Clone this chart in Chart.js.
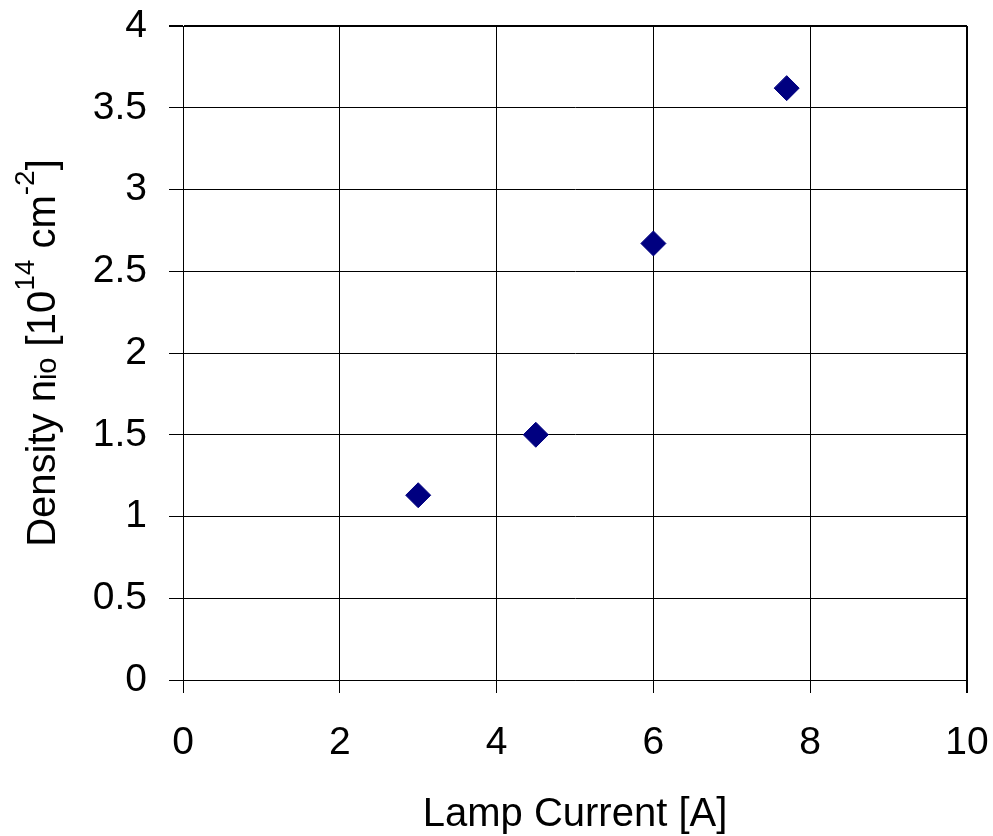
<!DOCTYPE html>
<html>
<head>
<meta charset="utf-8">
<title>Density vs Lamp Current</title>
<script src="https://cdn.jsdelivr.net/npm/chart.js@4.4.0/dist/chart.umd.min.js"></script>
<style>
  body { margin: 0; background: #fff; }
  #wrap { width: 993px; height: 836px; }
</style>
</head>
<body>
<div id="wrap"><canvas id="chart" width="993" height="836"></canvas></div>
<script>
'use strict';

// values
let lampCurrent = [3, 4.5, 6, 7.7];
let density = [1.13, 1.5, 2.67, 3.62];

let xTicks = [0, 2, 4, 6, 8, 10];
let yTicks = [0, 0.5, 1, 1.5, 2, 2.5, 3, 3.5, 4];

let fontFamily = '"Liberation Sans", Arial, Helvetica, sans-serif';
let navy = '#000080';

let points = [];
for (let i = 0; i < lampCurrent.length; i++) {
  points.push({x: lampCurrent[i], y: density[i]});
}

// y title has sub/superscripts, so it is drawn by hand
let yTitlePlugin = {
  id: 'yTitle',
  afterDraw(chart) {
    let ctx = chart.ctx;
    let area = chart.chartArea;
    let parts = [
      {text: 'Density n', size: 40, rise: 0},
      {text: 'io', size: 29, rise: -1},
      {text: ' [10', size: 40, rise: 0},
      {text: '14', size: 28, rise: 21},
      {text: ' cm', size: 40, rise: 0},
      {text: '-2', size: 28, rise: 21},
      {text: ']', size: 40, rise: 0}
    ];
    let total = 0;
    for (let p of parts) {
      ctx.font = p.size + 'px ' + fontFamily;
      p.w = ctx.measureText(p.text).width;
      total += p.w;
    }
    ctx.save();
    ctx.translate(55, (area.top + area.bottom) / 2);
    ctx.rotate(-Math.PI / 2);
    ctx.fillStyle = '#000';
    ctx.textBaseline = 'alphabetic';
    ctx.textAlign = 'left';
    let x = -total / 2;
    for (let p of parts) {
      ctx.font = p.size + 'px ' + fontFamily;
      ctx.fillText(p.text, x, -p.rise);
      x += p.w;
    }
    ctx.restore();
  }
};

function gridWidth(lastValue) {
  return function(context) {
    return context.tick && context.tick.value === lastValue ? 2 : 1;
  };
}

let ctx = document.getElementById('chart').getContext('2d');

let chart = new Chart(ctx, {
  type: 'scatter',
  data: {
    datasets: [{
      data: points,
      pointStyle: 'rectRot',
      pointRadius: 12.5,
      pointBackgroundColor: navy,
      pointBorderColor: navy,
      pointBorderWidth: 1,
      showLine: false
    }]
  },
  options: {
    responsive: false,
    animation: false,
    devicePixelRatio: 1,
    layout: {
      padding: {top: 26, right: 26, bottom: 0, left: 0}
    },
    plugins: {
      legend: {display: false},
      tooltip: {enabled: false}
    },
    scales: {
      x: {
        type: 'linear',
        min: 0,
        max: 10,
        afterBuildTicks: function(scale) {
          scale.ticks = xTicks.map(v => ({value: v}));
        },
        afterFit: function(scale) {
          scale.height = 156;
          scale.paddingLeft = 0;
          scale.paddingRight = 0;
        },
        ticks: {
          color: '#000',
          font: {family: fontFamily, size: 39},
          padding: 27,
          maxRotation: 0,
          callback: v => String(v)
        },
        grid: {
          color: '#000',
          lineWidth: gridWidth(10),
          tickLength: 13
        },
        border: {color: '#000', width: 1},
        title: {
          display: true,
          text: 'Lamp Current [A]',
          color: '#000',
          font: {family: fontFamily, size: 40},
          padding: {top: 0, bottom: -3}
        }
      },
      y: {
        type: 'linear',
        min: 0,
        max: 4,
        afterBuildTicks: function(scale) {
          scale.ticks = yTicks.map(v => ({value: v}));
        },
        afterFit: function(scale) {
          scale.width = 183;
          scale.paddingTop = 0;
          scale.paddingBottom = 0;
        },
        ticks: {
          color: '#000',
          font: {family: fontFamily, size: 39},
          padding: 22,
          callback: v => String(v)
        },
        grid: {
          color: '#000',
          lineWidth: gridWidth(4),
          tickLength: 14
        },
        border: {color: '#000', width: 1}
      }
    }
  },
  plugins: [yTitlePlugin]
});
</script>
</body>
</html>
